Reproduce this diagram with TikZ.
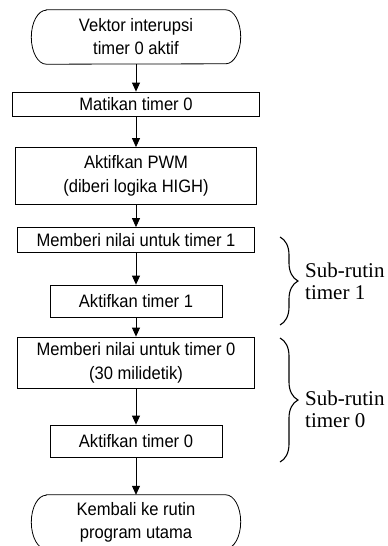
\documentclass[tikz,border=0pt]{standalone}
\usepackage{fontspec}
\setmainfont{Liberation Sans}[FakeStretch=0.92]
\newfontfamily\bracefont{Liberation Serif}
\usetikzlibrary{arrows.meta,decorations.pathreplacing}
\begin{document}
\begin{tikzpicture}[x=1pt,y=-1pt,
  box/.style={draw, line width=0.8pt, inner sep=0pt, align=center,
    font=\fontsize{18}{24}\selectfont},
  term/.style={inner sep=0pt, align=center, minimum width=209pt, minimum height=54pt,
    font=\fontsize{18}{23}\selectfont},
  outline/.style={line width=0.8pt},
  flow/.style={draw, line width=0.8pt, -{Triangle[width=8pt,length=9pt]}},
  brc/.style={decorate, decoration={brace, amplitude=18pt}, line width=1.1pt},
  blabel/.style={anchor=west, align=left, inner sep=0pt,
    font=\bracefont\fontsize{21}{22}\selectfont}]
\clip (0,0) rectangle (388,546);
% terminals
\node[term] (start) at (136,37) {Vektor interupsi\\timer 0 aktif};
\draw[outline] ([xshift=15pt]start.north west) -- ([xshift=-15pt]start.north east)
  arc[start angle=90,end angle=-90,x radius=15pt,y radius=27pt]
  -- ([xshift=15pt]start.south west)
  arc[start angle=270,end angle=90,x radius=15pt,y radius=27pt] -- cycle;
\node[term] (end) at (136,522) {Kembali ke rutin\\program utama};
\draw[outline] ([xshift=15pt]end.north west) -- ([xshift=-15pt]end.north east)
  arc[start angle=90,end angle=-90,x radius=15pt,y radius=27pt]
  -- ([xshift=15pt]end.south west)
  arc[start angle=270,end angle=90,x radius=15pt,y radius=27pt] -- cycle;
% process boxes
\node[box, minimum width=247pt, minimum height=24pt] (m0) at (136,104) {Matikan timer 0};
\node[box, minimum width=241pt, minimum height=57pt] (pwm) at (136,176) {Aktifkan PWM\\(diberi logika HIGH)};
\node[box, minimum width=237pt, minimum height=25pt] (n1) at (136,240) {Memberi nilai untuk timer 1};
\node[box, minimum width=172pt, minimum height=32pt] (a1) at (136,301) {Aktifkan timer 1};
\node[box, minimum width=237pt, minimum height=51pt] (n0) at (136,362.5) {Memberi nilai untuk timer 0\\(30 milidetik)};
\node[box, minimum width=172pt, minimum height=32pt] (a0) at (136,441) {Aktifkan timer 0};
% connectors
\draw[flow] (start) -- (m0);
\draw[flow] (m0) -- (pwm);
\draw[flow] (pwm) -- (n1);
\draw[flow] (n1) -- (a1);
\draw[flow] (a1) -- (n0);
\draw[flow] (n0) -- (a0);
\draw[flow] (a0) -- (end);
% braces
\coordinate (b1t) at (280,237);
\coordinate (b1b) at (280,325);
\coordinate (b0t) at (280,338);
\coordinate (b0b) at (280,462);
\draw[brc] (b1t) -- (b1b);
\draw[brc] (b0t) -- (b0b);
\node[blabel] (lab1) at (305,281) {Sub-rutin\\timer 1};
\node[blabel] (lab0) at (305,409) {Sub-rutin\\timer 0};
\end{tikzpicture}
\end{document}
